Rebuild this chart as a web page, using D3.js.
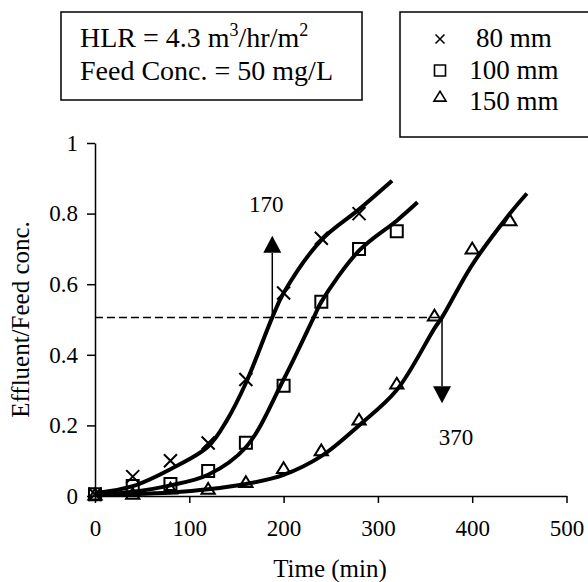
<!DOCTYPE html>
<html>
<head>
<meta charset="utf-8">
<script src="https://cdn.jsdelivr.net/npm/d3@7"></script>
<style>
    body { margin: 0; background: #fff; }
</style>
</head>
<body>
<svg id="chart" width="588" height="582" font-family="'Liberation Serif', 'Times New Roman', Times, 'DejaVu Serif', serif"></svg>
<script>
// axis ticks
const xTicks = [0, 100, 200, 300, 400, 500];
const yTicks = [0, 0.2, 0.4, 0.6, 0.8, 1];

// measured points
const obsTime80 = [0, 40, 80, 120, 160, 200, 240, 280];
const obs80 = [0.005, 0.055, 0.10, 0.15, 0.33, 0.575, 0.73, 0.80];
const obsTime100 = [0, 40, 80, 120, 160, 200, 240, 280, 320];
const obs100 = [0.005, 0.028, 0.034, 0.071, 0.151, 0.312, 0.55, 0.70, 0.75];
const obsTime150 = [0, 40, 80, 120, 160, 200, 240, 280, 320, 360, 400, 440];
const obs150 = [0.003, 0.005, 0.02, 0.019, 0.038, 0.078, 0.128, 0.215, 0.317, 0.51, 0.70, 0.78];

// fitted curves
const fitTime80 = [0, 40, 80, 120, 140, 160, 188, 200, 240, 280, 315];
const fit80 = [0.008, 0.028, 0.076, 0.14, 0.215, 0.32, 0.506, 0.575, 0.725, 0.812, 0.893];
const fitTime100 = [0, 40, 80, 120, 160, 200, 232, 240, 280, 320, 342];
const fit100 = [0.003, 0.012, 0.03, 0.06, 0.138, 0.33, 0.506, 0.55, 0.695, 0.78, 0.832];
const fitTime150 = [0, 40, 80, 120, 160, 200, 240, 280, 320, 360, 368, 400, 440, 458];
const fit150 = [0.002, 0.005, 0.01, 0.019, 0.034, 0.06, 0.113, 0.2, 0.30, 0.475, 0.506, 0.655, 0.80, 0.857];

// half breakthrough
const halfLevel = 0.506;
const arrowTimes = [188, 368];
const arrowTips = [0.737, 0.263];
const arrowLabels = ['170', '370'];

const legendLabels = ['80 mm', '100 mm', '150 mm'];

const svg = d3.select('#chart');

const xScale = d3.scaleLinear().domain([0, 500]).range([95, 566.5]);
const yScale = d3.scaleLinear().domain([0, 1]).range([496, 143]);

// info box
const info = svg.append('g');
info.append('rect')
    .attr('x', 61).attr('y', 12).attr('width', 301).attr('height', 88)
    .attr('fill', 'none').attr('stroke', '#000').attr('stroke-width', 1.5);
let t1 = info.append('text').attr('x', 80).attr('y', 47).style('font-size', '28px');
t1.append('tspan').text('HLR = 4.3 m');
t1.append('tspan').attr('dy', -11).style('font-size', '18px').text('3');
t1.append('tspan').attr('dy', 11).text('/hr/m');
t1.append('tspan').attr('dy', -11).style('font-size', '18px').text('2');
info.append('text').attr('x', 80).attr('y', 80).style('font-size', '28px')
    .text('Feed Conc. = 50 mg/L');

// legend box
const legend = svg.append('g');
legend.append('rect')
    .attr('x', 400).attr('y', 12).attr('width', 200).attr('height', 125)
    .attr('fill', 'none').attr('stroke', '#000').attr('stroke-width', 1.5);

const markerPath = [
    s => `M${-s},${-s}L${s},${s}M${-s},${s}L${s},${-s}`,
    s => `M${-s},${-s}H${s}V${s}H${-s}Z`,
    s => `M0,${-s * 1.05}L${s * 1.1},${s * 0.75}H${-s * 1.1}Z`
];
const legendMarkY = [39, 70.5, 97];
const legendTextY = [47, 78.5, 110];
legendLabels.forEach((lab, i) => {
    legend.append('path')
        .attr('transform', `translate(440,${legendMarkY[i]})`)
        .attr('d', markerPath[i](i === 0 ? 4.5 : 5.5))
        .attr('fill', 'none').attr('stroke', '#000').attr('stroke-width', 1.6);
    legend.append('text')
        .attr('x', 514).attr('y', legendTextY[i])
        .attr('text-anchor', 'middle')
        .style('font-size', '27px')
        .text(lab);
});

// axes
const xAxis = svg.append('g')
    .attr('transform', 'translate(0,496)')
    .call(d3.axisBottom(xScale).tickValues(xTicks).tickSize(7).tickSizeOuter(0).tickPadding(17).tickFormat(d3.format('d')));
const yAxis = svg.append('g')
    .attr('transform', 'translate(95,0)')
    .call(d3.axisLeft(yScale).tickValues(yTicks).tickSize(8).tickSizeOuter(0).tickPadding(9).tickFormat(d => d));
[xAxis, yAxis].forEach(a => {
    a.attr('font-family', null).attr('font-size', null);
    a.select('.domain').attr('stroke', '#000').attr('stroke-width', 1.5);
    a.selectAll('.tick line').attr('stroke', '#000').attr('stroke-width', 1.5);
    a.selectAll('.tick text').style('font-size', '23px').attr('fill', '#000');
});

svg.append('text')
    .attr('x', 330).attr('y', 577)
    .attr('text-anchor', 'middle')
    .style('font-size', '25px')
    .text('Time (min)');
svg.append('text')
    .attr('transform', 'translate(29,319.5) rotate(-90)')
    .attr('text-anchor', 'middle')
    .style('font-size', '25px')
    .text('Effluent/Feed conc.');

// dashed half level line
svg.append('line')
    .attr('x1', xScale(0)).attr('x2', xScale(arrowTimes[1]))
    .attr('y1', yScale(halfLevel)).attr('y2', yScale(halfLevel))
    .attr('stroke', '#000').attr('stroke-width', 1.5)
    .attr('stroke-dasharray', '8,4');

// arrows
arrowTimes.forEach((t, i) => {
    const ax = xScale(t);
    const y0 = yScale(halfLevel);
    const tip = yScale(arrowTips[i]);
    const dir = tip < y0 ? 1 : -1;
    const base = tip + dir * 17;
    svg.append('line')
        .attr('x1', ax).attr('x2', ax).attr('y1', y0).attr('y2', base)
        .attr('stroke', '#000').attr('stroke-width', 1.5);
    svg.append('path')
        .attr('d', `M${ax},${tip}L${ax + 9},${base}L${ax - 9},${base}Z`)
        .attr('fill', '#000');
    svg.append('text')
        .attr('x', i === 0 ? ax - 6 : ax + 14)
        .attr('y', i === 0 ? tip - 24 : tip + 42)
        .attr('text-anchor', 'middle')
        .style('font-size', '23px')
        .text(arrowLabels[i]);
});

// fitted curves
const line = d3.line()
    .x(d => xScale(d[0]))
    .y(d => yScale(d[1]))
    .curve(d3.curveCatmullRom.alpha(0.5));
const fits = [[fitTime80, fit80], [fitTime100, fit100], [fitTime150, fit150]];
fits.forEach(f => {
    svg.append('path')
        .datum(f[0].map((t, i) => [t, f[1][i]]))
        .attr('d', line)
        .attr('fill', 'none')
        .attr('stroke', '#000')
        .attr('stroke-width', 4);
});

// markers
const obs = [[obsTime80, obs80], [obsTime100, obs100], [obsTime150, obs150]];
obs.forEach((o, k) => {
    svg.append('g').selectAll('path')
        .data(o[0].map((t, i) => [t, o[1][i]]))
        .enter()
        .append('path')
        .attr('transform', d => `translate(${xScale(d[0])},${yScale(d[1])})`)
        .attr('d', markerPath[k](k === 0 ? 6.5 : 6))
        .attr('fill', 'none')
        .attr('stroke', '#000')
        .attr('stroke-width', 2);
});
</script>
</body>
</html>
